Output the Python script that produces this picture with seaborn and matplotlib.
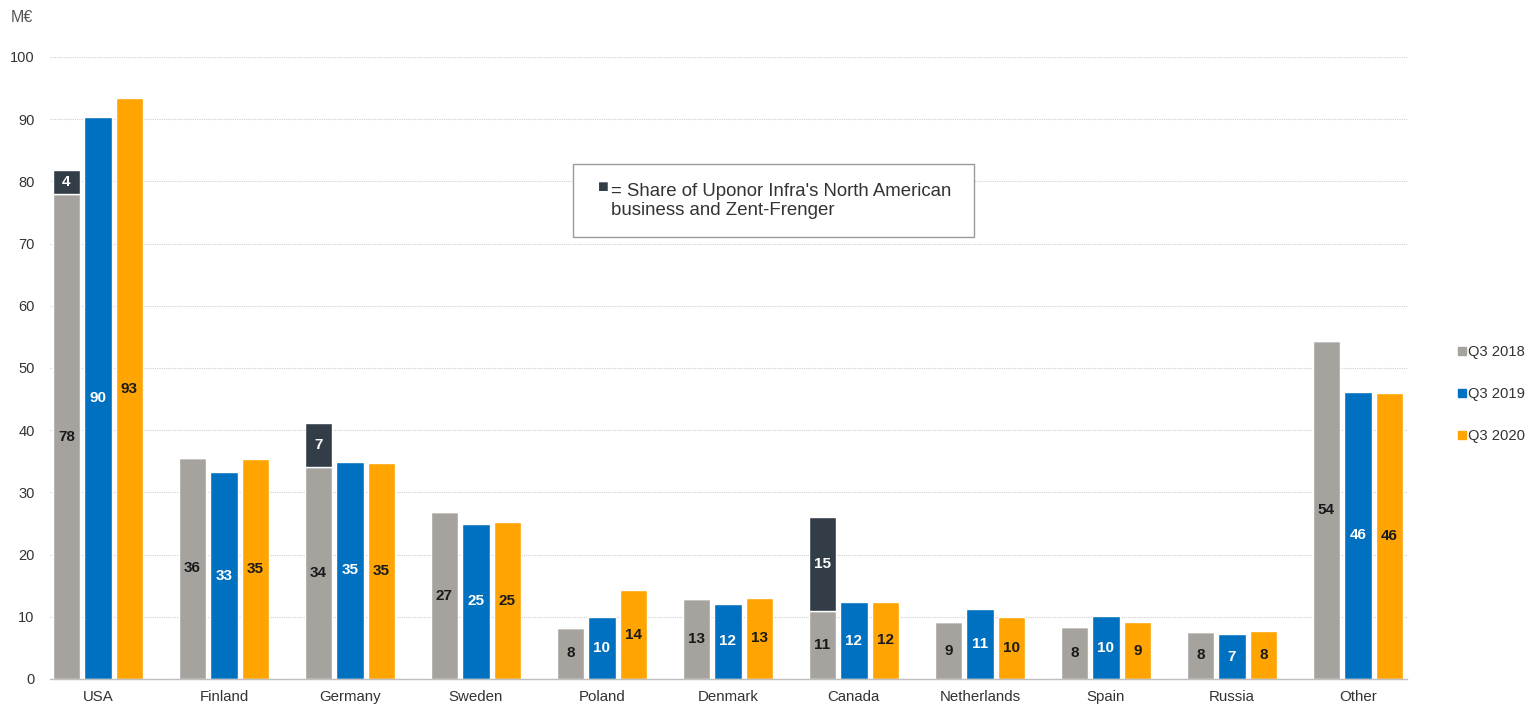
import matplotlib
matplotlib.use("Agg")
import matplotlib.pyplot as plt
from matplotlib.lines import Line2D
from matplotlib.patches import Rectangle
import seaborn as sns
import pandas as pd

countries = ["USA", "Finland", "Germany", "Sweden", "Poland", "Denmark",
             "Canada", "Netherlands", "Spain", "Russia", "Other"]
quarters = ["Q3 2018", "Q3 2019", "Q3 2020"]
q3_2018 = [77.9, 35.6, 34.1, 26.8, 8.2, 12.8, 11.0, 9.1, 8.4, 7.6, 54.4]
q3_2019 = [90.3, 33.2, 34.9, 25.0, 10.0, 12.1, 12.3, 11.2, 10.1, 7.2, 46.2]
q3_2020 = [93.4, 35.4, 34.7, 25.2, 14.3, 13.1, 12.4, 10.0, 9.1, 7.7, 46.0]
infra_share_2018 = [3.9, 0, 7.0, 0, 0, 0, 15.0, 0, 0, 0, 0]
yticks = list(range(0, 101, 10))

colors = {"Q3 2018": "#A6A39E", "Q3 2019": "#0070C0", "Q3 2020": "#FFA400"}
dark = "#333D48"
label_colors = ["#1a1a1a", "white", "#1a1a1a"]

sns.set_theme(style="white")
plt.rcParams["font.family"] = ["Liberation Sans", "DejaVu Sans"]

rows = []
for q, vals in zip(quarters, [q3_2018, q3_2019, q3_2020]):
    for c, v in zip(countries, vals):
        rows.append({"Country": c, "Quarter": q, "Value": v})
df = pd.DataFrame(rows)

fig = plt.figure(figsize=(15.31, 7.05), dpi=100)
ax = fig.add_axes([50 / 1531, 1 - 679 / 705, 1357 / 1531, 622 / 705])

sns.barplot(data=df, x="Country", y="Value", hue="Quarter", order=countries,
            hue_order=quarters, palette=colors, width=0.75, gap=0.13,
            saturation=1, legend=False, ax=ax, errorbar=None)

# labels for the three series
for cont, lc in zip(ax.containers[:3], label_colors):
    ax.bar_label(cont, labels=[f"{p.get_height():.0f}" for p in cont],
                 label_type="center", color=lc, fontsize=11, fontweight="bold")

# stacked dark share on top of Q3 2018 bars
gray_cont = ax.containers[0]
xs = [p.get_x() + p.get_width() / 2 for p in gray_cont]
w = gray_cont[0].get_width()
dark_bars = ax.bar(xs, infra_share_2018, width=w, bottom=q3_2018, color=dark)
ax.bar_label(dark_bars, labels=[f"{v:.0f}" if v > 0 else "" for v in infra_share_2018],
             label_type="center", color="white", fontsize=11, fontweight="bold")

ax.set_ylim(0, 100)
ax.set_xlim(-0.38, len(countries) - 1 + 0.39)
ax.set_yticks(yticks)
ax.set_yticklabels([str(t) for t in yticks])
ax.yaxis.grid(True, linestyle=(0, (1, 1)), color="#CFCFCF", linewidth=0.8)
ax.xaxis.grid(False)
ax.set_axisbelow(True)
for s in ["left", "right", "top"]:
    ax.spines[s].set_visible(False)
ax.spines["bottom"].set_color("#BFBFBF")
ax.spines["bottom"].set_linewidth(1.0)
ax.tick_params(axis="y", length=0, labelsize=10.5, colors="#333333", pad=11)
ax.tick_params(axis="x", length=0, labelsize=10.8, colors="#333333", pad=8)
ax.set_xlabel("")
ax.set_ylabel("")

fig.text(11 / 1531, 1 - 18 / 705, "M€", fontsize=11.5, color="#555555",
         va="center", ha="left")

# annotation box
x0 = (573 - 50) / 1357
y0 = (679 - 237) / 622
ax.add_patch(Rectangle((x0, y0), (974 - 573) / 1357, (237 - 164) / 622,
                       transform=ax.transAxes, facecolor="white",
                       edgecolor="#9A9A9A", linewidth=1.0, zorder=5))
ax.text((598 - 50) / 1357, (679 - 188) / 622, "■", transform=ax.transAxes,
        color=dark, fontsize=13, va="center", ha="left", zorder=6)
ax.text((611 - 50) / 1357, (679 - 201) / 622,
        "= Share of Uponor Infra's North American\nbusiness and Zent-Frenger",
        transform=ax.transAxes, color="#333333", fontsize=13.4, va="center",
        ha="left", linespacing=1.2, zorder=6)

handles = [Line2D([0], [0], marker="s", linestyle="", markersize=6,
                  color=colors[q]) for q in quarters]
fig.legend(handles, quarters, loc="center left",
           bbox_to_anchor=(1458 / 1531, 1 - 394 / 705), frameon=False,
           fontsize=10.6, handlelength=0.5, handletextpad=0.2,
           borderpad=0, borderaxespad=0,
           labelspacing=1.9, labelcolor="#333333")

fig.savefig("out.png", dpi=100)
